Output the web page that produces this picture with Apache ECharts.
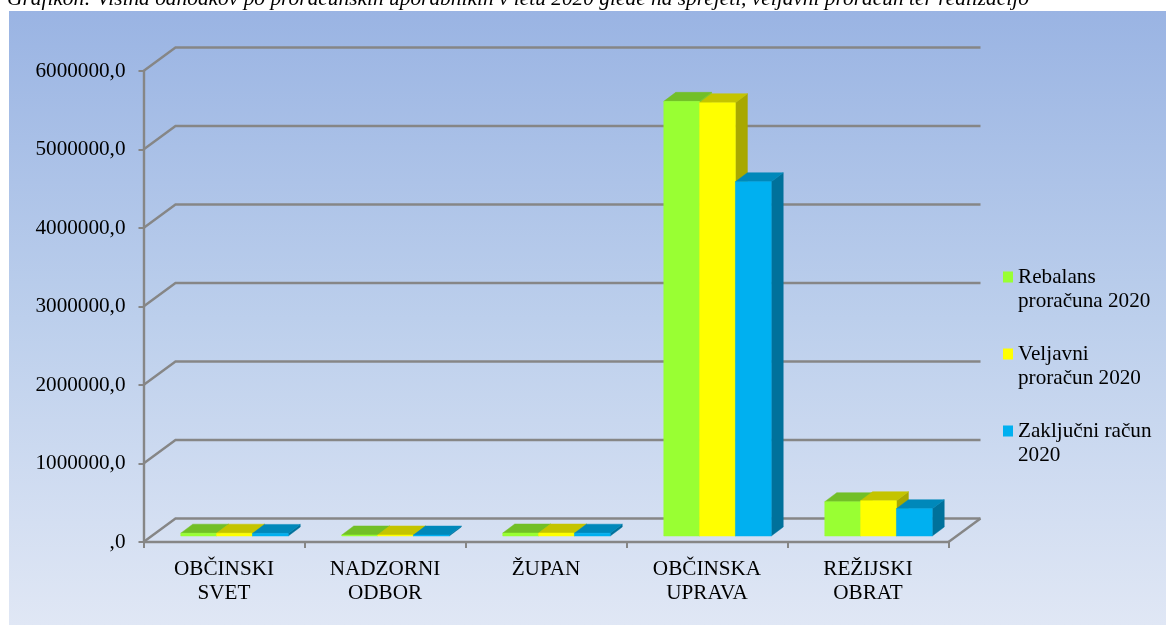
<!DOCTYPE html>
<html>
<head>
<meta charset="utf-8">
<title>Grafikon</title>
<script src="https://cdn.jsdelivr.net/npm/echarts@6/dist/echarts.min.js"></script>
<style>
  html, body { margin: 0; padding: 0; background: #fff; }
  #chart { width: 1166px; height: 626px; }
</style>
</head>
<body>
<div id="chart"></div>
<script>
const categories = ['OBČINSKI\nSVET', 'NADZORNI\nODBOR', 'ŽUPAN', 'OBČINSKA\nUPRAVA', 'REŽIJSKI\nOBRAT']
const rebalans = [36000, 13000, 38000, 5537000, 437000]
const veljavni = [36000, 13000, 38000, 5520000, 450000]
const zakljucni = [33000, 12000, 36000, 4513000, 348000]
const yTicks = [0, 1000000, 2000000, 3000000, 4000000, 5000000, 6000000]
const seriesNames = ['Rebalans\nproračuna 2020', 'Veljavni\nproračun 2020', 'Zaključni račun\n2020']
const titleText = 'Grafikon: Višina odhodkov po proračunskih uporabnikih v letu 2020 glede na sprejeti, veljavni proračun ter realizacijo'

const FONT = '"Liberation Serif", "Times New Roman", serif'
const FONT_SIZE = 21.2
const GRID_COLOR = '#868686'
const GRID_WIDTH = 2.4
// depth of the fake 3D box and of one bar, in px
const WALL_DX = 32
const WALL_DY = -23.5
const BAR_DX = 12
const BAR_DY = -9
const BAR_SHIFT_X = 10.5
const BAR_SHIFT_Y = -6
const BAR_RATIO = 0.2225

const faces = [
  { front: '#99ff33', top: '#72bf27', side: '#7fcc2b' },
  { front: '#ffff00', top: '#c4c400', side: '#a8a800' },
  { front: '#00b0f0', top: '#0088ba', side: '#00719b' }
]

const wallLine = (points) => ({
  type: 'polyline',
  shape: { points },
  style: { fill: null, stroke: GRID_COLOR, lineWidth: GRID_WIDTH }
})

// side wall + back wall line for one y tick, floor gets the closing edge too
const renderWall = (params, api) => {
  const rect = params.coordSys
  const y = api.coord([0, api.value(1)])[1]
  const left = rect.x
  const right = rect.x + rect.width
  const children = [wallLine([
    [left, y],
    [left + WALL_DX, y + WALL_DY],
    [right + WALL_DX, y + WALL_DY]
  ])]
  if (api.value(1) === 0) {
    children.push(wallLine([[right + WALL_DX, y + WALL_DY], [right, y]]))
  }
  return { type: 'group', children }
}

const makeBarRenderer = (seriesIndex) => (params, api) => {
  const top = api.coord([api.value(0), api.value(1)])
  const base = api.coord([api.value(0), 0])
  const barW = api.size([1, 0])[0] * BAR_RATIO
  const x0 = top[0] + (seriesIndex - 1.5) * barW + BAR_SHIFT_X
  const x1 = x0 + barW
  const yTop = top[1] + BAR_SHIFT_Y
  const yBase = base[1] + BAR_SHIFT_Y
  const c = faces[seriesIndex]
  const poly = (points, fill) => ({
    type: 'polygon',
    shape: { points },
    style: { fill, stroke: fill, lineWidth: 0.5 }
  })
  return {
    type: 'group',
    children: [
      poly([[x1, yBase], [x1 + BAR_DX, yBase + BAR_DY], [x1 + BAR_DX, yTop + BAR_DY], [x1, yTop]], c.side),
      poly([[x0, yTop], [x0 + BAR_DX, yTop + BAR_DY], [x1 + BAR_DX, yTop + BAR_DY], [x1, yTop]], c.top),
      poly([[x0, yBase], [x1, yBase], [x1, yTop], [x0, yTop]], c.front)
    ]
  }
}

const barSeries = (name, values, i) => ({
  name,
  type: 'custom',
  coordinateSystem: 'cartesian2d',
  clip: false,
  silent: true,
  z: 3 + i,
  itemStyle: { color: faces[i].front },
  data: values.map((v, idx) => [idx, v]),
  encode: { x: 0, y: 1 },
  renderItem: makeBarRenderer(i)
})

const chart = echarts.init(document.getElementById('chart'), null, { renderer: 'canvas' })

chart.setOption({
  animation: false,
  graphic: [
    {
      type: 'text',
      z: -10,
      silent: true,
      x: 7,
      y: -11.5,
      style: {
        text: titleText,
        font: 'italic 21.4px ' + FONT,
        fill: '#000'
      }
    },
    {
      type: 'rect',
      z: -5,
      silent: true,
      shape: { x: 9, y: 11, width: 1157, height: 614 },
      style: {
        fill: new echarts.graphic.LinearGradient(0, 0, 0, 1, [
          { offset: 0, color: '#9ab4e3' },
          { offset: 0.5, color: '#bccfec' },
          { offset: 1, color: '#e0e7f5' }
        ])
      }
    }
  ],
  grid: { left: 143.5, right: 217.5, top: 71, bottom: 84 },
  legend: {
    left: 1003,
    top: 265,
    padding: 0,
    orient: 'vertical',
    data: seriesNames,
    // swatch sits at the top of a taller icon box so it lines up with the first text line
    icon: 'path://M0,0H10V11H0Z M0,35L10,35',
    itemWidth: 10,
    itemHeight: 35,
    itemGap: 29,
    selectedMode: false,
    textStyle: { fontFamily: FONT, fontSize: FONT_SIZE, lineHeight: 24, color: '#000' }
  },
  xAxis: {
    type: 'category',
    data: categories,
    axisLine: { lineStyle: { color: GRID_COLOR, width: GRID_WIDTH } },
    axisTick: { show: true, length: 6, alignWithLabel: false, lineStyle: { color: GRID_COLOR, width: 2 } },
    axisLabel: { color: '#000', fontFamily: FONT, fontSize: FONT_SIZE, lineHeight: 24, margin: 15, interval: 0 },
    splitLine: { show: false }
  },
  yAxis: {
    type: 'value',
    min: 0,
    max: 6000000,
    interval: 1000000,
    axisLine: { show: true, lineStyle: { color: GRID_COLOR, width: GRID_WIDTH } },
    axisTick: { show: true, length: 5, lineStyle: { color: GRID_COLOR, width: 2 } },
    axisLabel: {
      color: '#000',
      fontFamily: FONT,
      fontSize: FONT_SIZE,
      margin: 18,
      padding: [3, 0, 0, 0],
      formatter: (v) => (v === 0 ? ',0' : v + ',0')
    },
    splitLine: { show: false }
  },
  series: [
    {
      type: 'custom',
      coordinateSystem: 'cartesian2d',
      clip: false,
      silent: true,
      z: 1,
      data: yTicks.map((t) => [0, t]),
      encode: { x: 0, y: 1 },
      renderItem: renderWall
    },
    barSeries(seriesNames[0], rebalans, 0),
    barSeries(seriesNames[1], veljavni, 1),
    barSeries(seriesNames[2], zakljucni, 2)
  ]
})

window.addEventListener('resize', () => chart.resize())
</script>
</body>
</html>
